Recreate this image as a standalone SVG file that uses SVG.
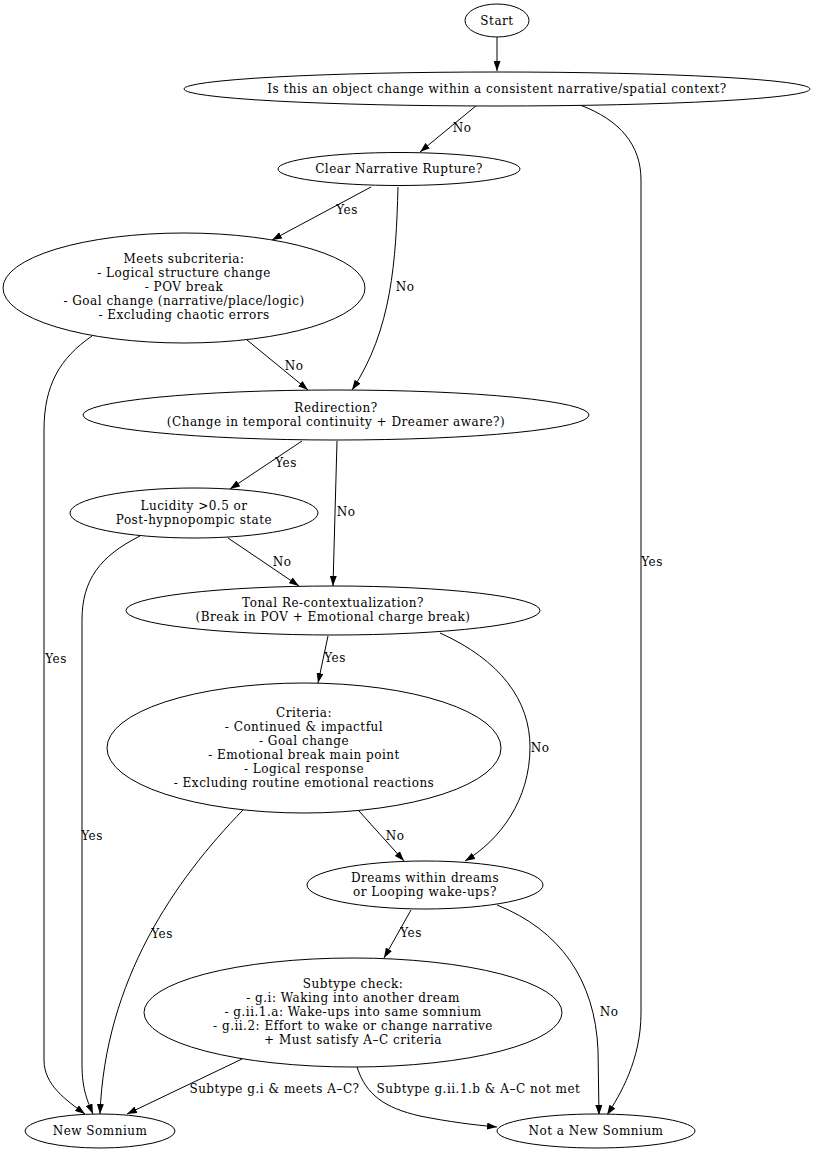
<svg xmlns="http://www.w3.org/2000/svg" width="813" height="1152" viewBox="0 0 813 1152" font-family="'DejaVu Serif', 'Liberation Serif', serif">
<defs>
<marker id="ah" viewBox="0 0 10 7" refX="10" refY="3.5" markerWidth="10" markerHeight="7" markerUnits="userSpaceOnUse" orient="auto">
<path d="M0,0 L10,3.5 L0,7 Z" fill="#000"/>
</marker>
<style>
ellipse{fill:#fff;stroke:#000;stroke-width:1}
text{font-family:'DejaVu Serif','Liberation Serif',serif;font-size:12px;letter-spacing:0.5px;fill:#000;text-anchor:middle}
#edges path{fill:none;stroke:#000;stroke-width:1;marker-end:url(#ah)}
</style>
</defs>
<rect width="813" height="1152" fill="#fff"/>
<g id="edges">
<path d="M497,37 L497,71"/>
<path d="M477,105 L420,152"/>
<path d="M580,105 C620,120 641,145 641,180 L641,1013 C641,1060 620,1095 607,1115"/>
<path d="M371,187 L272,240"/>
<path d="M398,187 C396,260 392,330 352,390"/>
<path d="M92,336 C60,358 44,385 44,430 L44,1060 C44,1085 66,1100 85,1114"/>
<path d="M247,340 L308,390"/>
<path d="M302,441 L230,489"/>
<path d="M337,441 L333,586"/>
<path d="M140,536 C100,556 82,580 82,620 L82,1065 C82,1090 88,1102 93,1114"/>
<path d="M228,538 L299,586"/>
<path d="M328,636 L318,683"/>
<path d="M440,633 C500,660 530,700 530,747 C530,800 500,840 465,861"/>
<path d="M243,810 C175,880 105,980 100,1114"/>
<path d="M359,811 L404,861"/>
<path d="M411,910 L384,958"/>
<path d="M497,905 C560,930 595,980 598,1050 L599,1115"/>
<path d="M242,1059 L127,1114"/>
<path d="M357,1067 C366,1095 385,1108 420,1116 C450,1122 475,1125 497,1127"/>
<text x="462" y="132">No</text>
<text x="652" y="566">Yes</text>
<text x="347" y="214">Yes</text>
<text x="405" y="291">No</text>
<text x="56" y="663">Yes</text>
<text x="294" y="370">No</text>
<text x="286" y="467">Yes</text>
<text x="346" y="516">No</text>
<text x="92" y="840">Yes</text>
<text x="282" y="566">No</text>
<text x="335" y="662">Yes</text>
<text x="540" y="752">No</text>
<text x="162" y="938">Yes</text>
<text x="395" y="840">No</text>
<text x="411" y="937">Yes</text>
<text x="609" y="1016">No</text>
<text x="274.5" y="1093">Subtype g.i &amp; meets A–C?</text>
<text x="478.5" y="1093">Subtype g.ii.1.b &amp; A–C not met</text>
</g>
<g id="start"><ellipse cx="497" cy="20.5" rx="32" ry="16.5"/><text x="497" y="24.5">Start</text></g>
<g id="q_object"><ellipse cx="497" cy="89" rx="313" ry="17"/><text x="497" y="93">Is this an object change within a consistent narrative/spatial context?</text></g>
<g id="q_rupture"><ellipse cx="399" cy="169" rx="121" ry="16.5"/><text x="399" y="173">Clear Narrative Rupture?</text></g>
<g id="q_subcriteria"><ellipse cx="184" cy="288" rx="181" ry="55"/>
<text x="184" y="263">Meets subcriteria:</text><text x="184" y="277">- Logical structure change</text><text x="184" y="291">- POV break</text><text x="184" y="305">- Goal change (narrative/place/logic)</text><text x="184" y="319">- Excluding chaotic errors</text></g>
<g id="q_redirection"><ellipse cx="336" cy="415" rx="253" ry="25"/>
<text x="336" y="412">Redirection?</text><text x="336" y="426">(Change in temporal continuity + Dreamer aware?)</text></g>
<g id="q_lucidity"><ellipse cx="194" cy="513" rx="124" ry="25"/>
<text x="194" y="510">Lucidity &gt;0.5 or</text><text x="194" y="524">Post-hypnopompic state</text></g>
<g id="q_tonal"><ellipse cx="333" cy="610.5" rx="207" ry="24.5"/>
<text x="333" y="607">Tonal Re-contextualization?</text><text x="333" y="621">(Break in POV + Emotional charge break)</text></g>
<g id="q_criteria"><ellipse cx="304" cy="748" rx="197" ry="65"/>
<text x="304" y="717">Criteria:</text><text x="304" y="731">- Continued &amp; impactful</text><text x="304" y="745">- Goal change</text><text x="304" y="759">- Emotional break main point</text><text x="304" y="773">- Logical response</text><text x="304" y="787">- Excluding routine emotional reactions</text></g>
<g id="q_dreams"><ellipse cx="425" cy="885" rx="118" ry="24"/>
<text x="425" y="882">Dreams within dreams</text><text x="425" y="896">or Looping wake-ups?</text></g>
<g id="q_subtype"><ellipse cx="353" cy="1012.5" rx="209" ry="54.5"/>
<text x="353" y="988">Subtype check:</text><text x="353" y="1002">- g.i: Waking into another dream</text><text x="353" y="1016">- g.ii.1.a: Wake-ups into same somnium</text><text x="353" y="1030">- g.ii.2: Effort to wake or change narrative</text><text x="353" y="1044">+ Must satisfy A–C criteria</text></g>
<g id="new_somnium"><ellipse cx="100" cy="1131" rx="75" ry="17"/><text x="100" y="1135">New Somnium</text></g>
<g id="not_new"><ellipse cx="596" cy="1131" rx="99" ry="17"/><text x="596" y="1135">Not a New Somnium</text></g>
</svg>
